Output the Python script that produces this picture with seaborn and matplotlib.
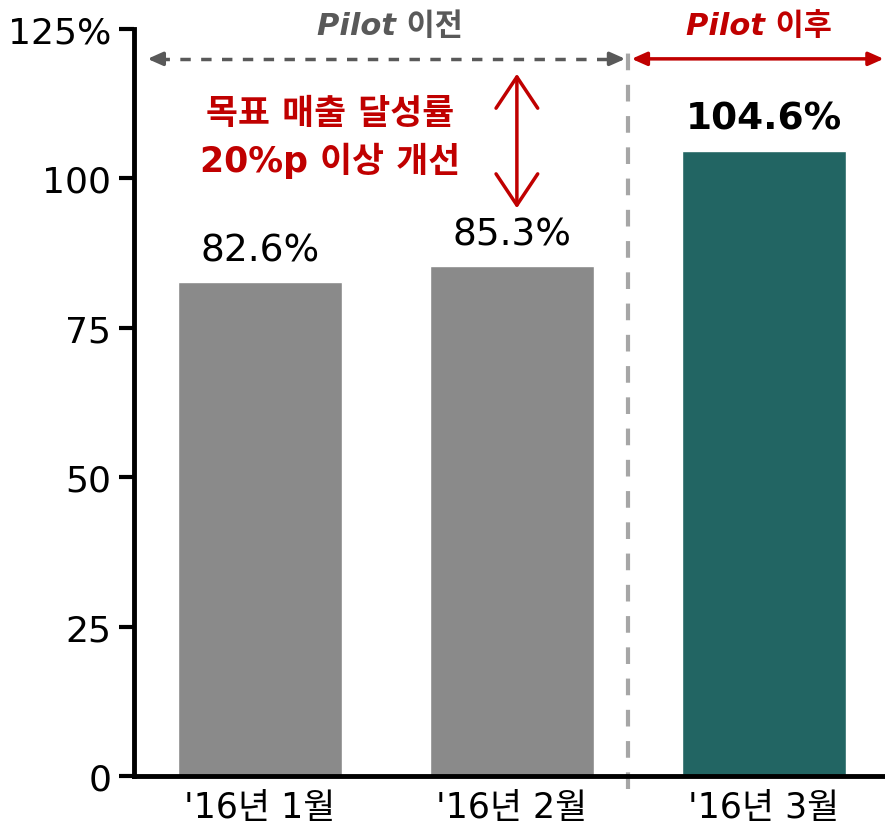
import matplotlib
matplotlib.use('agg')
import matplotlib.pyplot as plt
import seaborn as sns
import pandas as pd

# data
months = ["'16년 1월", "'16년 2월", "'16년 3월"]
rates = [82.6, 85.3, 104.6]
rate_labels = ['82.6%', '85.3%', '104.6%']
bar_colors = ['#8a8a8a', '#8a8a8a', '#226563']
yticks = [0, 25, 50, 75, 100, 125]
ytick_labels = ['0', '25', '50', '75', '100', '125%']

sns.set_style('ticks')
plt.rcParams['font.family'] = ['DejaVu Sans', 'Noto Sans CJK KR']
plt.rcParams['text.color'] = 'black'
plt.rcParams['xtick.color'] = 'black'
plt.rcParams['ytick.color'] = 'black'
plt.rcParams['xtick.labelcolor'] = 'black'
plt.rcParams['ytick.labelcolor'] = 'black'

df = pd.DataFrame({'month': months, 'rate': rates})

fig = plt.figure(figsize=(8.85, 8.28), dpi=100)
ax = fig.add_axes([0.151, 0.0616, 0.849, 0.9022])

sns.barplot(data=df, x='month', y='rate', hue='month', palette=bar_colors,
            width=0.65, legend=False, ax=ax, saturation=1)

ax.set_xlim(-0.5, 2.48)
ax.set_ylim(0, 125)
ax.set_yticks(yticks)
ax.set_yticklabels(ytick_labels, fontsize=26)
ax.tick_params(axis='y', length=11, width=3, pad=5, colors='black')
ax.tick_params(axis='x', length=0, labelsize=25, pad=10, colors='black')
ax.set_xlabel('')
ax.set_ylabel('')
sns.despine(ax=ax)
for s in ['left', 'bottom']:
    ax.spines[s].set_linewidth(3.5)
    ax.spines[s].set_color('black')

# bar value labels
for i, (v, lab) in enumerate(zip(rates, rate_labels)):
    ax.annotate(lab, (i, v), xytext=(0, 10), textcoords='offset points',
                ha='center', va='bottom', fontsize=27, color='black',
                fontweight='bold' if i == 2 else 'normal')

# pilot divider
ax.plot([1.46, 1.46], [-2.2, 122], ls=(0, (4, 3.5)), color='#a6a6a6', lw=3,
        clip_on=False)
ax.plot([-0.40, 1.42], [120, 120], ls=(0, (3, 3)), color='#595959', lw=2.5,
        clip_on=False)
ax.annotate('', xy=(-0.445, 120), xytext=(-0.39, 120),
            arrowprops=dict(arrowstyle='-|>,head_length=0.9,head_width=0.4',
                            color='#595959', lw=2.5,
                            shrinkA=0, shrinkB=0), annotation_clip=False)
ax.annotate('', xy=(1.45, 120), xytext=(1.40, 120),
            arrowprops=dict(arrowstyle='-|>,head_length=0.9,head_width=0.4',
                            color='#595959', lw=2.5,
                            shrinkA=0, shrinkB=0), annotation_clip=False)
ax.annotate('', xy=(1.475, 120), xytext=(2.475, 120),
            arrowprops=dict(arrowstyle='<|-|>,head_length=0.9,head_width=0.4',
                            color='#c00000', lw=2.5,
                            shrinkA=0, shrinkB=0), annotation_clip=False)
ax.text(0.516, 125.5, 'Pilot 이전', ha='center', va='center', fontsize=22,
        fontweight='bold', fontstyle='italic', color='#595959')
ax.text(1.98, 125.5, 'Pilot 이후', ha='center', va='center', fontsize=22,
        fontweight='bold', fontstyle='italic', color='#c00000')

# improvement note
ax.text(0.278, 107, '목표 매출 달성률\n20%p 이상 개선', ha='center', va='center',
        fontsize=25, fontweight='bold', color='#c00000', linespacing=1.4)
ax.annotate('', xy=(1.02, 117.5), xytext=(1.02, 95),
            arrowprops=dict(arrowstyle='<->,head_length=0.9,head_width=0.6',
                            color='#c00000', lw=2.5, shrinkA=0, shrinkB=0,
                            mutation_scale=25))

fig.savefig('out.png', dpi=100)
